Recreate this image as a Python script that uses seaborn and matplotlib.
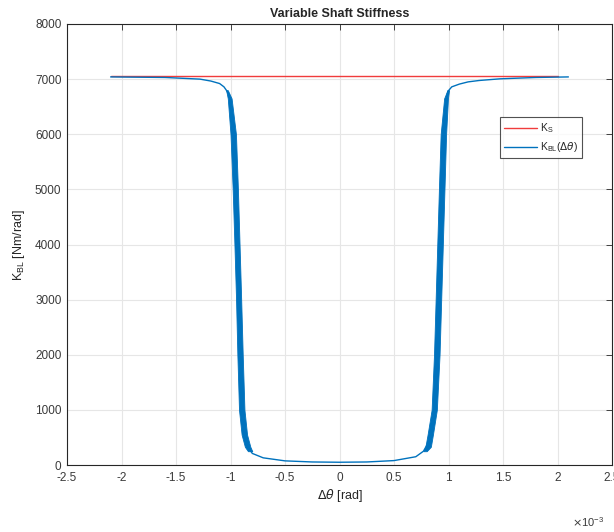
import numpy as np
import pandas as pd
import matplotlib.pyplot as plt
import seaborn as sns

# estilo parecido com o do matlab
sns.set_style("whitegrid")
plt.rcParams["font.family"] = ["Liberation Sans", "DejaVu Sans"]
plt.rcParams["axes.unicode_minus"] = False

# dados (delta theta em 1e-3 rad, rigidez em Nm/rad)
ks_theta = [-2.10, 2.00]
ks_value = [7050, 7050]

kbl_theta = [-2.10, -1.60, -1.28, -1.18, -1.10, -1.06, -1.035, -1.012, -0.995,
             -0.985, -0.975, -0.956, -0.941, -0.926, -0.913, -0.897, -0.873,
             -0.843, -0.80, -0.70, -0.50, -0.25, 0.0, 0.25, 0.50, 0.70, 0.77,
             0.813, 0.869, 0.892, 0.908, 0.923, 0.938, 0.953, 0.962, 0.975,
             0.995, 1.03, 1.10, 1.18, 1.28, 1.47, 1.80, 2.10]
kbl_value = [7040, 7030, 7000, 6965, 6920, 6860, 6790, 6700, 6560,
             6300, 6000, 5000, 4000, 3000, 2000, 1000, 550,
             330, 210, 130, 75, 55, 50, 55, 80, 150, 250,
             400, 1000, 2000, 3000, 4000, 5000, 6000, 6300, 6600,
             6780, 6860, 6910, 6950, 6975, 7005, 7030, 7040]

# faixa grossa (varias passagens da curva)
band_k = [6800, 6650, 6000, 5000, 4000, 3000, 2000, 1000, 550, 330, 250]
left_lo = [-1.040, -1.025, -1.000, -0.980, -0.964, -0.949, -0.937, -0.922, -0.898, -0.868, -0.840]
left_hi = [-1.025, -0.990, -0.950, -0.932, -0.917, -0.902, -0.888, -0.872, -0.848, -0.818, -0.800]
right_lo = [0.990, 0.960, 0.928, 0.912, 0.897, 0.882, 0.867, 0.845, 0.808, 0.788, 0.770]
right_hi = [1.005, 0.995, 0.978, 0.963, 0.948, 0.933, 0.918, 0.893, 0.857, 0.838, 0.800]

blue = "#0072BD"
red = "#F03C3C"

fig = plt.figure(figsize=(6.14, 5.32), dpi=100)
ax = fig.add_axes([67/614, 67/532, 545/614, 441/532])

df_ks = pd.DataFrame({"theta": ks_theta, "k": ks_value})
df_kbl = pd.DataFrame({"theta": kbl_theta, "k": kbl_value})

sns.lineplot(data=df_ks, x="theta", y="k", color=red, linewidth=1.0,
             sort=False, estimator=None, ax=ax, label="K$_\\mathregular{S}$")
sns.lineplot(data=df_kbl, x="theta", y="k", color=blue, linewidth=1.0,
             sort=False, estimator=None, ax=ax,
             label="K$_\\mathregular{BL}$($\\Delta\\theta$)")
ax.fill_betweenx(band_k, left_lo, left_hi, color=blue, linewidth=0.6, edgecolor=blue)
ax.fill_betweenx(band_k, right_lo, right_hi, color=blue, linewidth=0.6, edgecolor=blue)

ax.set_xlim(-2.5, 2.5)
ax.set_ylim(0, 8000)
ax.set_xticks(np.arange(-2.5, 2.51, 0.5))
ax.set_xticklabels(["-2.5", "-2", "-1.5", "-1", "-0.5", "0", "0.5", "1", "1.5", "2", "2.5"])
ax.set_yticks(np.arange(0, 8001, 1000))

ax.grid(True, color="#e6e6e6", linewidth=0.8)
for s in ax.spines.values():
    s.set_color("#262626")
    s.set_linewidth(0.8)
ax.tick_params(direction="in", length=4, width=0.6, colors="#262626",
               labelsize=8.5, top=True, right=True, labelcolor="#3a3a3a")
ax.tick_params(axis="x", pad=5)
ax.tick_params(axis="y", pad=4)

ax.set_title("Variable Shaft Stiffness", fontsize=9, fontweight="bold", pad=5)
ax.set_xlabel("$\\Delta\\theta$ [rad]", fontsize=9, color="#262626", labelpad=2)
ax.set_ylabel("K$_\\mathregular{BL}$ [Nm/rad]", fontsize=9, color="#262626", labelpad=6)
fig.text(588/614, 1 - 522/532, "$\\times$10$^{\\mathregular{-3}}$", fontsize=8,
         color="#3a3a3a", ha="center", va="center")

leg = ax.legend(loc="upper left", bbox_to_anchor=(0.794, 0.789), fontsize=7.5,
                frameon=True, fancybox=False, handlelength=3.2, handletextpad=0.3,
                borderpad=0.4, labelspacing=0.5, borderaxespad=0)
leg.get_frame().set_edgecolor("#262626")
leg.get_frame().set_linewidth(0.8)

fig.savefig("out.png", dpi=100)
